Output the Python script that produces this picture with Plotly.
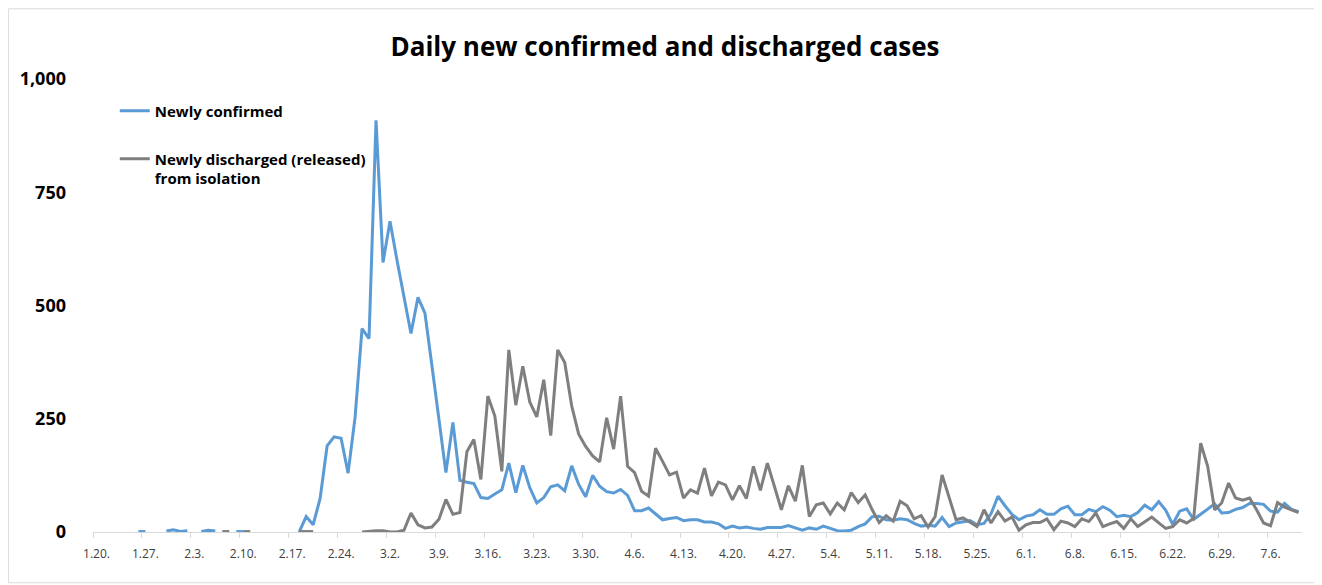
import plotly.graph_objects as go
import pandas as pd

# ---------------- data ----------------
dates = pd.date_range("2020-01-20", "2020-07-10", freq="D")

# Newly confirmed (None = no value reported that day)
confirmed_jan = [1, None, None, None, 1, None, 1, 1, None, None, 2, 5]           # Jan 20-31
confirmed_feb = [1, 3, None, 1, 4, 2, None, None, 1, 1,
                 None, None, None, None, None, None, None,
                 0, 34, 16, 74, 190, 210, 207, 130, 253, 449, 427, 909]          # Feb 1-29
confirmed_mar = [595, 686, 600, 516, 438, 518, 483, 367, 248, 131,
                 242, 114, 110, 107, 76, 74, 84, 93, 152, 87,
                 147, 98, 64, 76, 100, 104, 91, 146, 105, 78, 125]
confirmed_apr = [101, 89, 86, 94, 81, 47, 47, 53, 39, 27,
                 30, 32, 25, 27, 27, 22, 22, 18, 8, 13,
                 9, 11, 8, 6, 10, 10, 10, 14, 9, 4]
confirmed_may = [9, 6, 13, 8, 3, 2, 4, 12, 18, 34,
                 35, 27, 26, 29, 27, 19, 13, 15, 13, 32,
                 12, 20, 23, 25, 16, 19, 40, 79, 58, 39, 27]
confirmed_jun = [35, 38, 49, 39, 39, 51, 57, 38, 38, 50,
                 45, 56, 48, 34, 37, 34, 43, 59, 49, 67,
                 48, 17, 46, 51, 28, 39, 51, 62, 42, 43]
confirmed_jul = [50, 54, 63, 63, 61, 46, 44, 63, 50, 45]

# Newly discharged (released) from isolation
discharged_jan = [None] * 12
discharged_feb = [None, None, None, None, None, None, 1, 1, None, 1,
                  1, None, None, None, None, None, None,
                  1, 1, 1, None, None, None, None, None, None, 0, 2, 3]
discharged_mar = [3, 0, 0, 4, 42, 16, 9, 11, 28, 72,
                  39, 43, 177, 204, 116, 300, 256, 134, 402, 280,
                  366, 287, 254, 336, 213, 402, 374, 278, 216, 189, 168]
discharged_apr = [155, 252, 183, 300, 145, 131, 90, 79, 185, 156,
                  126, 132, 75, 93, 86, 141, 80, 110, 104, 71,
                  102, 74, 145, 92, 152, 101, 49, 102, 68, 147]
discharged_may = [34, 60, 64, 40, 64, 49, 87, 65, 82, 49,
                  21, 36, 24, 68, 58, 29, 36, 11, 34, 126,
                  75, 27, 31, 21, 12, 49, 20, 45, 24, 33, 4]
discharged_jun = [16, 21, 21, 29, 5, 24, 20, 12, 29, 23,
                  42, 12, 18, 23, 8, 29, 12, 23, 33, 20,
                  8, 12, 27, 20, 30, 196, 145, 49, 64, 108]
discharged_jul = [75, 70, 75, 49, 20, 14, 65, 55, 49, 43]

confirmed = (confirmed_jan + confirmed_feb + confirmed_mar + confirmed_apr
             + confirmed_may + confirmed_jun + confirmed_jul)
discharged = (discharged_jan + discharged_feb + discharged_mar + discharged_apr
              + discharged_may + discharged_jun + discharged_jul)

tick_labels = ["1.20.", "1.27.", "2.3.", "2.10.", "2.17.", "2.24.", "3.2.", "3.9.",
               "3.16.", "3.23.", "3.30.", "4.6.", "4.13.", "4.20.", "4.27.", "5.4.",
               "5.11.", "5.18.", "5.25.", "6.1.", "6.8.", "6.15.", "6.22.", "6.29.", "7.6."]
tick_dates = pd.date_range("2020-01-20", periods=len(tick_labels), freq="7D")
boundary_dates = tick_dates - pd.Timedelta(hours=12)

y_ticks = [0, 250, 500, 750, 1000]
y_tick_labels = ["0", "250", "500", "750", "1,000"]

# ---------------- figure ----------------
FONT = "Open Sans"
fig = go.Figure()
fig.add_trace(go.Scatter(
    x=dates, y=confirmed, mode="lines", name="Newly confirmed",
    line=dict(color="#5B9BD5", width=3), connectgaps=False,
    showlegend=True, legend="legend"))
fig.add_trace(go.Scatter(
    x=dates, y=discharged, mode="lines",
    name="Newly discharged (released)<br>from isolation",
    line=dict(color="#7F7F7F", width=3), connectgaps=False,
    showlegend=True, legend="legend2"))

half_day = pd.Timedelta(hours=12)
fig.update_layout(
    width=1314, height=577,
    margin=dict(l=85, r=20, t=71, b=53),
    showlegend=True,
    paper_bgcolor="white", plot_bgcolor="white",
    font=dict(family=FONT, color="#000000"),
    title=dict(text="Daily new confirmed and discharged cases",
               x=0.5, xanchor="center", y=0.932, yanchor="middle",
               font=dict(family=FONT, size=26, color="#000000", weight="bold")),
    xaxis=dict(
        type="date",
        range=[dates[0] - half_day, dates[-1] + half_day],
        tickmode="array", tickvals=tick_dates, ticktext=tick_labels,
        ticks="", showgrid=False, zeroline=False,
        showline=True, linecolor="#D9D9D9", linewidth=1,
        tickfont=dict(family=FONT, size=12, color="#404040"),
        ticklabelstandoff=11,
        minor=dict(tickmode="array", tickvals=boundary_dates, ticks="outside",
                   ticklen=5, tickwidth=1, tickcolor="#D9D9D9", showgrid=False),
    ),
    yaxis=dict(
        range=[0, 1000], tickmode="array", tickvals=y_ticks, ticktext=y_tick_labels,
        ticks="", showgrid=False, zeroline=False, showline=False,
        tickfont=dict(family=FONT, size=18, color="#000000", weight="bold"),
        ticklabelstandoff=26,
    ),
    legend=dict(x=0.018, xanchor="left", y=0.966, yanchor="top",
                bgcolor="rgba(0,0,0,0)", valign="top",
                font=dict(family=FONT, size=15, color="#000000", weight="bold")),
    legend2=dict(x=0.018, xanchor="left", y=0.86, yanchor="top",
                 bgcolor="rgba(0,0,0,0)", valign="top",
                 font=dict(family=FONT, size=15, color="#000000", weight="bold")),
    shapes=[dict(type="rect", xref="paper", yref="paper",
                 x0=-0.07, x1=1.03, y0=-0.112, y1=1.155,
                 line=dict(color="#D9D9D9", width=1), fillcolor="rgba(0,0,0,0)",
                 layer="below")],
)

fig.write_html("out.html")
